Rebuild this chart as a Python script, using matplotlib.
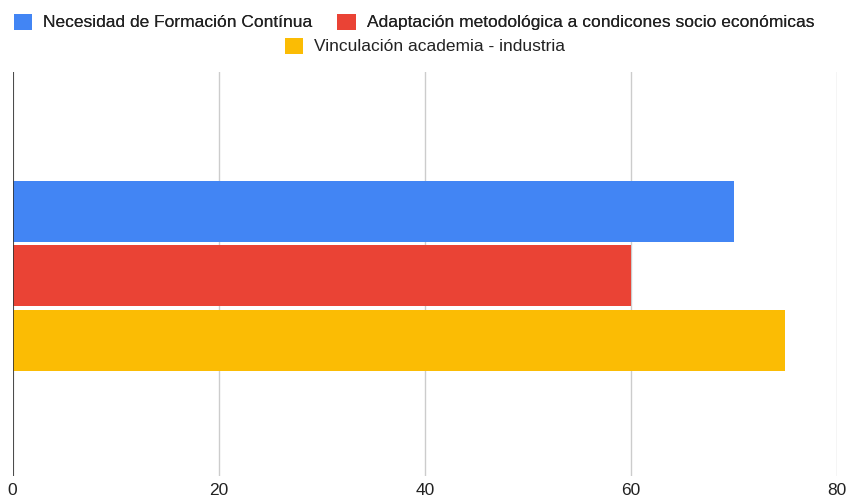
import numpy as np
import matplotlib.pyplot as plt

plt.rcParams['font.family'] = ['Liberation Sans', 'DejaVu Sans']

series = ['Necesidad de Formación Contínua',
          'Adaptación metodológica a condicones socio económicas',
          'Vinculación academia - industria']
values = [70, 60, 75]
colors = ['#4285F4', '#EA4335', '#FBBC04']
xticks = [0, 20, 40, 60, 80]

fig = plt.figure(figsize=(8.49, 4.99), dpi=100)
W, H = 849, 499
ax = fig.add_axes([12.5 / W, 1 - 476 / H, (837 - 12.5) / W, (476 - 72) / H])

bar_h = 61 / 404
step = 64.5 / 404
offsets = (np.arange(len(values)) - 1) * step + 2 / 404
bars = []
for off, v, c, name in zip(offsets, values, colors, series):
    b = ax.barh(-off, v, height=bar_h, color=c, label=name, zorder=3)
    bars.append(b)

ax.set_xlim(0, 80)
ax.set_ylim(-0.5, 0.5)
ax.set_xticks(xticks)
ax.set_xticklabels([str(t) for t in xticks], fontsize=12.5, color='#222222')
ax.set_yticks([])
ax.tick_params(axis='x', length=0, pad=5)
ax.grid(axis='x', color='#cccccc', linewidth=1, zorder=0)
ax.axvline(0, color='#333333', linewidth=1.2, zorder=4)
for s in ax.spines.values():
    s.set_visible(False)

# legend: two entries on the first row, the third centred below
leg_kw = dict(frameon=False, fontsize=12.5, handlelength=1.05, handleheight=1.05,
              handletextpad=0.65, columnspacing=1.45, borderpad=0, labelcolor='#222222')
leg1 = fig.legend(bars[:2], series[:2], ncol=2, loc='center',
                  bbox_to_anchor=(414 / W, 1 - 22 / H), **leg_kw)
fig.add_artist(leg1)
fig.legend(bars[2:], series[2:], ncol=1, loc='center',
           bbox_to_anchor=(425 / W, 1 - 46 / H), **leg_kw)

fig.savefig('out.png', dpi=100)
